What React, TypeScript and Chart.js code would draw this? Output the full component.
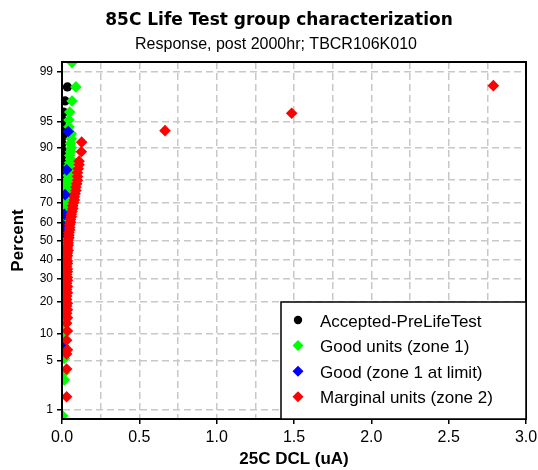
import React, { useEffect, useRef } from 'react';
import { Chart, registerables, LinearScale } from 'chart.js';

Chart.register(...registerables);

// ---------- text ----------
const TITLE = '85C Life Test group characterization';
const SUBTITLE = 'Response, post 2000hr; TBCR106K010';
const X_TITLE = '25C DCL (uA)';
const Y_TITLE = 'Percent';
const SERIES_NAMES = ['Accepted-PreLifeTest', 'Good units (zone 1)', 'Good (zone 1 at limit)', 'Marginal units (zone 2)'];
const SERIES_COLORS = ['#000000', '#00ff00', '#0000ff', '#ff0000'];

// ---------- axes ----------
const Y_TICKS = [1, 5, 10, 20, 30, 40, 50, 60, 70, 80, 90, 95, 99];
const Y_MIN = 0.715;
const Y_MAX = 99.31;
const X_MIN = 0;
const X_MAX = 3;
const X_GRID_STEP = 0.25;
const X_LABEL_STEP = 0.5;

// ---------- data (x = DCL uA, pct = cumulative percent) ----------
const BLACK_X = [0.035, 0.02, 0.01, 0.005, 0.005, 0.005, 0.0, 0.0, 0.005, 0.0, 0.0, 0.005, 0.0, 0.0];
const BLACK_PCT = [98.3, 97.3, 96.2, 95.2, 94.0, 92.5, 91.0, 89.5, 88.0, 86.0, 84.0, 82.0, 80.0, 77.0];

const GREEN_X = [
  0.065, 0.09, 0.065, 0.05, 0.045, 0.045, 0.06, 0.06, 0.055, 0.06,
  0.055, 0.05, 0.055, 0.05, 0.045, 0.05, 0.045, 0.04, 0.04, 0.035,
  0.035, 0.03, 0.03, 0.025, 0.03, 0.025, 0.025, 0.02, 0.02, 0.02,
  0.015, 0.02, 0.015, 0.015, 0.015, 0.01, 0.01, 0.01, 0.01, 0.005,
  0.01, 0.005, 0.005, 0.005, 0.005, 0.005, 0.005, 0.005, 0.005, 0.005,
  0.005, 0.005, 0.005, 0.005, 0.005, 0.005, 0.005, 0.005, 0.005, 0.005,
  0.005, 0.005, 0.005, 0.005, 0.015, 0.015, 0.015, 0.005,
];
const GREEN_PCT = [
  99.3, 98.3, 97.3, 96.2, 95.2, 94.2, 93.0, 92.0, 91.0, 90.0,
  89.0, 88.0, 87.0, 86.0, 85.0, 84.0, 82.8, 81.6, 80.4, 79.2,
  78.0, 76.8, 75.6, 74.4, 73.2, 72.0, 70.8, 69.5, 68.2, 66.8,
  65.4, 64.0, 62.5, 61.0, 59.5, 58.0, 56.5, 55.0, 53.5, 52.0,
  50.5, 49.0, 47.5, 46.0, 44.0, 42.0, 40.0, 38.0, 36.0, 34.0,
  32.0, 30.0, 28.0, 26.0, 24.0, 22.0, 20.0, 18.0, 16.0, 14.0,
  12.0, 10.0, 8.5, 7.0, 5.3, 3.5, 2.8, 0.8,
];

const BLUE_X = [0.04, 0.03, 0.02, 0.015, 0.005, 0.005, 0.005, 0.005, 0.005, 0.005, 0.01];
const BLUE_PCT = [93.4, 83.6, 73.8, 64.3, 58.7, 54.4, 44.5, 34.5, 26.0, 16.8, 7.4];

const RED_X = [
  0.03, 0.03, 0.03, 0.035, 0.03, 0.035, 0.03, 0.035, 0.03, 0.035,
  0.03, 0.035, 0.03, 0.03, 0.035, 0.03, 0.035, 0.03, 0.035, 0.035,
  0.03, 0.035, 0.035, 0.03, 0.035, 0.035, 0.03, 0.035, 0.035, 0.04,
  0.035, 0.04, 0.04, 0.04, 0.045, 0.045, 0.045, 0.05, 0.05, 0.05,
  0.055, 0.055, 0.06, 0.06, 0.065, 0.07, 0.07, 0.075, 0.08, 0.08,
  0.085, 0.09, 0.09, 0.095, 0.1, 0.1, 0.1, 0.105, 0.11, 0.11,
  0.125, 0.127, 0.666, 1.485, 2.789,
];
const RED_PCT = [
  1.6, 3.9, 6.0, 6.7, 8.6, 10.8, 12.9, 14.5, 16.0, 17.2,
  18.5, 19.6, 21.0, 22.4, 23.8, 25.2, 26.6, 28.0, 29.4, 30.8,
  32.2, 33.6, 35.0, 36.4, 37.8, 39.2, 40.6, 42.0, 43.4, 44.8,
  46.2, 47.6, 49.0, 50.4, 51.8, 53.2, 54.6, 56.0, 57.4, 58.8,
  60.2, 61.6, 63.0, 64.4, 65.8, 67.2, 68.6, 70.0, 71.4, 72.8,
  74.2, 75.6, 77.0, 78.4, 79.8, 81.2, 82.6, 84.0, 85.3, 86.4,
  89.0, 91.3, 93.55, 96.05, 98.37,
];

// ---------- normal probability scale ----------
function probit(p: number): number {
  const a = [-3.969683028665376e1, 2.209460984245205e2, -2.759285104469687e2, 1.38357751867269e2, -3.066479806614716e1, 2.506628277459239];
  const b = [-5.447609879822406e1, 1.615858368580409e2, -1.556989798598866e2, 6.680131188771972e1, -1.328068155288572e1];
  const c = [-7.784894002430293e-3, -3.223964580411365e-1, -2.400758277161838, -2.549732539343734, 4.374664141464968, 2.938163982698783];
  const d = [7.784695709041462e-3, 3.224671290700398e-1, 2.445134137142996, 3.754408661907416];
  const pl = 0.02425;
  if (p < pl) {
    const q = Math.sqrt(-2 * Math.log(p));
    return (((((c[0] * q + c[1]) * q + c[2]) * q + c[3]) * q + c[4]) * q + c[5]) / ((((d[0] * q + d[1]) * q + d[2]) * q + d[3]) * q + 1);
  }
  if (p <= 1 - pl) {
    const q = p - 0.5;
    const r = q * q;
    return ((((((a[0] * r + a[1]) * r + a[2]) * r + a[3]) * r + a[4]) * r + a[5]) * q) / (((((b[0] * r + b[1]) * r + b[2]) * r + b[3]) * r + b[4]) * r + 1);
  }
  const q = Math.sqrt(-2 * Math.log(1 - p));
  return -(((((c[0] * q + c[1]) * q + c[2]) * q + c[3]) * q + c[4]) * q + c[5]) / ((((d[0] * q + d[1]) * q + d[2]) * q + d[3]) * q + 1);
}

function normCdf(z: number): number {
  const t = 1 / (1 + 0.3275911 * Math.abs(z) / Math.SQRT2);
  const y = 1 - (((((1.061405429 * t - 1.453152027) * t) + 1.421413741) * t - 0.284496736) * t + 0.254829592) * t * Math.exp(-(z * z) / 2);
  return z >= 0 ? (1 + y) / 2 : (1 - y) / 2;
}

class ProbabilityScale extends (LinearScale as any) {
  static id = 'probability';
  static defaults = {};
  determineDataLimits() {
    this.min = this.options.min;
    this.max = this.options.max;
  }
  buildTicks() {
    return Y_TICKS.map((value) => ({ value }));
  }
  configure() {
    super.configure();
    this._z0 = probit(this.min / 100);
    this._z1 = probit(this.max / 100);
  }
  getPixelForValue(value: number) {
    const z = probit(value / 100);
    return this.getPixelForDecimal((z - this._z0) / (this._z1 - this._z0));
  }
  getValueForPixel(pixel: number) {
    const z = this._z0 + this.getDecimalForPixel(pixel) * (this._z1 - this._z0);
    return 100 * normCdf(z);
  }
}
Chart.register(ProbabilityScale as any);

const pts = (xs: number[], ps: number[]) => xs.map((x, i) => ({ x, y: ps[i] }));

const isLabelValue = (v: number) => Math.abs(v / X_LABEL_STEP - Math.round(v / X_LABEL_STEP)) < 1e-6;

const framePlugin = {
  id: 'frame',
  afterDatasetsDraw(chart: any) {
    const { ctx, chartArea } = chart;
    const { left, right, top, bottom } = chartArea;
    ctx.save();
    ctx.strokeStyle = '#000';
    ctx.lineWidth = 2;
    ctx.strokeRect(left, top, right - left, bottom - top);
    ctx.restore();
  },
};

const textPlugin = {
  id: 'titles',
  afterDraw(chart: any) {
    const { ctx } = chart;
    ctx.save();
    ctx.fillStyle = '#000';
    ctx.textAlign = 'center';
    ctx.textBaseline = 'alphabetic';
    ctx.font = 'bold 17px "DejaVu Sans"';
    ctx.fillText(TITLE, 279, 25);
    ctx.font = '16px "Liberation Sans"';
    ctx.fillText(SUBTITLE, 276, 49);
    ctx.restore();
  },
};

const legendPlugin = {
  id: 'boxLegend',
  afterDraw(chart: any) {
    const { ctx, chartArea } = chart;
    const w = 245;
    const h = 117;
    const x0 = chartArea.right - w;
    const y0 = chartArea.bottom - h;
    ctx.save();
    ctx.fillStyle = '#fff';
    ctx.fillRect(x0, y0, w, h);
    ctx.strokeStyle = '#000';
    ctx.lineWidth = 1.5;
    ctx.strokeRect(x0, y0, w, h);
    ctx.font = '17px "Liberation Sans"';
    ctx.textAlign = 'left';
    ctx.textBaseline = 'alphabetic';
    SERIES_NAMES.forEach((name, i) => {
      const cy = y0 + 18 + i * 25.6;
      const cx = x0 + 17;
      ctx.fillStyle = SERIES_COLORS[i];
      ctx.beginPath();
      if (i === 0) {
        ctx.arc(cx, cy, 4.2, 0, Math.PI * 2);
      } else {
        const r = 5.5;
        ctx.moveTo(cx, cy - r);
        ctx.lineTo(cx + r, cy);
        ctx.lineTo(cx, cy + r);
        ctx.lineTo(cx - r, cy);
        ctx.closePath();
      }
      ctx.fill();
      ctx.fillStyle = '#000';
      ctx.fillText(name, x0 + 39, cy + 6.5);
    });
    ctx.restore();
  },
};

export default function App() {
  const ref = useRef<HTMLCanvasElement>(null);
  useEffect(() => {
    if (!ref.current) return;
    const diamond = { pointStyle: 'rectRot', pointRadius: 5.8, borderWidth: 0 };
    const chart = new Chart(ref.current, {
      type: 'scatter',
      data: {
        datasets: [
          { label: SERIES_NAMES[3], data: pts(RED_X, RED_PCT), backgroundColor: SERIES_COLORS[3], ...diamond },
          { label: SERIES_NAMES[2], data: pts(BLUE_X, BLUE_PCT), backgroundColor: SERIES_COLORS[2], ...diamond },
          { label: SERIES_NAMES[1], data: pts(GREEN_X, GREEN_PCT), backgroundColor: SERIES_COLORS[1], ...diamond },
          { label: SERIES_NAMES[0], data: pts(BLACK_X, BLACK_PCT), backgroundColor: SERIES_COLORS[0], pointStyle: 'circle', pointRadius: 4.6, borderWidth: 0 },
        ],
      } as any,
      options: {
        responsive: false,
        animation: false,
        events: [],
        layout: { padding: { left: 0, right: 12, top: 62, bottom: 0 } },
        plugins: { legend: { display: false }, tooltip: { enabled: false }, title: { display: false } },
        scales: {
          x: {
            type: 'linear',
            min: X_MIN,
            max: X_MAX,
            afterFit: (s: any) => { s.height = 51; s.paddingLeft = 0; s.paddingRight = 0; },
            ticks: {
              stepSize: X_GRID_STEP,
              autoSkip: false,
              maxRotation: 0,
              color: '#000',
              padding: 4,
              font: { family: 'Liberation Sans', size: 16 },
              callback: (v: any) => (isLabelValue(Number(v)) ? Number(v).toFixed(1) : ''),
            },
            grid: {
              color: '#c8c8c8',
              lineWidth: 1.5,
              tickLength: 5,
              tickWidth: 1.5,
              tickBorderDash: [],
              tickColor: (c: any) => (c.tick && isLabelValue(c.tick.value) ? '#000' : 'rgba(0,0,0,0)'),
            },
            border: { display: true, color: '#000', width: 2, dash: [7, 4] },
            title: {
              display: true,
              text: X_TITLE,
              color: '#000',
              font: { family: 'Liberation Sans', size: 17, weight: 'bold' },
              padding: { top: 0, bottom: 0 },
            },
          },
          y: {
            type: 'probability',
            min: Y_MIN,
            max: Y_MAX,
            afterFit: (s: any) => { s.width = 62; s.paddingTop = 0; s.paddingBottom = 0; },
            ticks: {
              autoSkip: false,
              color: '#000',
              padding: 4,
              font: { family: 'Liberation Sans', size: 12 },
              callback: (v: any) => String(v),
            },
            grid: {
              color: '#c8c8c8',
              lineWidth: 1.5,
              tickLength: 5,
              tickWidth: 1.5,
              tickBorderDash: [],
              tickColor: '#000',
            },
            border: { display: true, color: '#000', width: 2, dash: [7, 4] },
            title: {
              display: true,
              text: Y_TITLE,
              color: '#000',
              font: { family: 'Liberation Sans', size: 17, weight: 'bold' },
              padding: { top: 8, bottom: 0 },
            },
          },
        } as any,
      },
      plugins: [framePlugin, textPlugin, legendPlugin],
    } as any);
    return () => chart.destroy();
  }, []);
  return (
    <div style={{ position: 'absolute', left: 0, top: 0, width: 538, height: 470, background: '#fff' }}>
      <canvas ref={ref} width={538} height={470} style={{ display: 'block' }} />
    </div>
  );
}
